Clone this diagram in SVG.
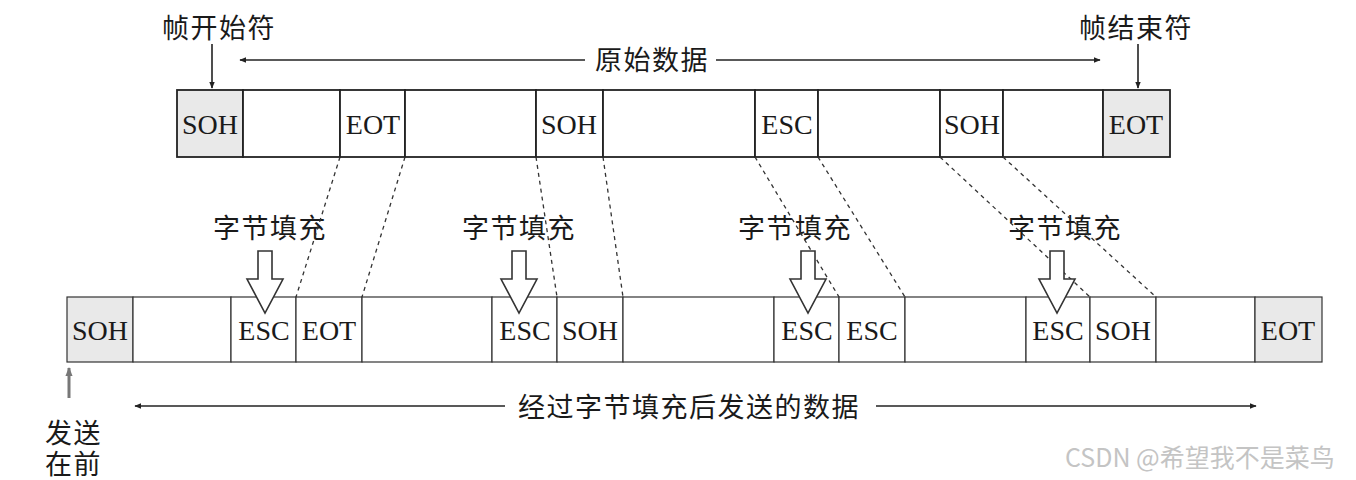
<svg xmlns="http://www.w3.org/2000/svg" width="1356" height="480" viewBox="0 0 1356 480">
<defs>
<style>
.cell{fill:#fff;stroke:#222;stroke-width:1.8}
.cell2{fill:#fff;stroke:#333;stroke-width:1.2}
.gray{fill:#e9e9e9}
.lbl{font-family:"Liberation Serif","Times New Roman",serif;font-size:28px;fill:#1a1a1a;text-anchor:middle}
.cn{font-family:"Noto Sans CJK SC","Noto Sans CJK JP",sans-serif;font-size:27px;letter-spacing:1.5px;fill:#1a1a1a}
.dash{stroke:#333;stroke-width:1.3;stroke-dasharray:4 4;fill:none}
.arr{stroke:#222;stroke-width:1.6;fill:none}
.hollow{fill:#fff;stroke:#333;stroke-width:1.6;stroke-linejoin:miter}
</style>
<marker id="ah" viewBox="0 0 10 10" refX="9" refY="5" markerWidth="7" markerHeight="7" orient="auto-start-reverse" markerUnits="userSpaceOnUse">
<path d="M0,1 L10,5 L0,9 Z" fill="#222"/>
</marker>
<marker id="ahg" viewBox="0 0 10 10" refX="9" refY="5" markerWidth="9" markerHeight="9" orient="auto" markerUnits="userSpaceOnUse">
<path d="M0,1 L10,5 L0,9 Z" fill="#777"/>
</marker>
</defs>
<rect width="1356" height="480" fill="#fff"/>

<!-- top row: original data -->
<g id="top-row">
<g id="t1"><rect class="cell gray" x="177" y="90" width="66" height="67"/><text class="lbl" x="210" y="134">SOH</text></g>
<g id="t2"><rect class="cell" x="243" y="90" width="97" height="67"/></g>
<g id="t3"><rect class="cell" x="340" y="90" width="65" height="67"/><text class="lbl" x="373" y="134">EOT</text></g>
<g id="t4"><rect class="cell" x="405" y="90" width="131" height="67"/></g>
<g id="t5"><rect class="cell" x="536" y="90" width="67" height="67"/><text class="lbl" x="569" y="134">SOH</text></g>
<g id="t6"><rect class="cell" x="603" y="90" width="152" height="67"/></g>
<g id="t7"><rect class="cell" x="755" y="90" width="63" height="67"/><text class="lbl" x="787" y="134">ESC</text></g>
<g id="t8"><rect class="cell" x="818" y="90" width="122" height="67"/></g>
<g id="t9"><rect class="cell" x="940" y="90" width="63" height="67"/><text class="lbl" x="972" y="134">SOH</text></g>
<g id="t10"><rect class="cell" x="1003" y="90" width="100" height="67"/></g>
<g id="t11"><rect class="cell gray" x="1103" y="90" width="67" height="67"/><text class="lbl" x="1136" y="134">EOT</text></g>
</g>

<!-- bottom row: stuffed data -->
<g id="bottom-row">
<g id="b1"><rect class="cell2 gray" x="67" y="297" width="66" height="65"/><text class="lbl" x="100" y="340">SOH</text></g>
<g id="b2"><rect class="cell2" x="133" y="297" width="98" height="65"/></g>
<g id="b3"><rect class="cell2" x="231" y="297" width="65" height="65"/><text class="lbl" x="264" y="340">ESC</text></g>
<g id="b4"><rect class="cell2" x="296" y="297" width="66" height="65"/><text class="lbl" x="329" y="340">EOT</text></g>
<g id="b5"><rect class="cell2" x="362" y="297" width="130" height="65"/></g>
<g id="b6"><rect class="cell2" x="492" y="297" width="65" height="65"/><text class="lbl" x="525" y="340">ESC</text></g>
<g id="b7"><rect class="cell2" x="557" y="297" width="66" height="65"/><text class="lbl" x="590" y="340">SOH</text></g>
<g id="b8"><rect class="cell2" x="623" y="297" width="151" height="65"/></g>
<g id="b9"><rect class="cell2" x="774" y="297" width="65" height="65"/><text class="lbl" x="807" y="340">ESC</text></g>
<g id="b10"><rect class="cell2" x="839" y="297" width="66" height="65"/><text class="lbl" x="872" y="340">ESC</text></g>
<g id="b11"><rect class="cell2" x="905" y="297" width="121" height="65"/></g>
<g id="b12"><rect class="cell2" x="1026" y="297" width="64" height="65"/><text class="lbl" x="1058" y="340">ESC</text></g>
<g id="b13"><rect class="cell2" x="1090" y="297" width="66" height="65"/><text class="lbl" x="1123" y="340">SOH</text></g>
<g id="b14"><rect class="cell2" x="1156" y="297" width="99" height="65"/></g>
<g id="b15"><rect class="cell2 gray" x="1255" y="297" width="67" height="65"/><text class="lbl" x="1288" y="340">EOT</text></g>
</g>

<!-- labels -->
<g id="label-start"><text class="cn" x="162" y="38">帧开始符</text></g>
<g id="label-end"><text class="cn" x="1079" y="38">帧结束符</text></g>
<g id="label-orig"><text class="cn" x="595" y="70">原始数据</text></g>
<g id="label-fill1"><text class="cn" x="213" y="238">字节填充</text></g>
<g id="label-fill2"><text class="cn" x="462" y="238">字节填充</text></g>
<g id="label-fill3"><text class="cn" x="738" y="238">字节填充</text></g>
<g id="label-fill4"><text class="cn" x="1008" y="238">字节填充</text></g>
<g id="label-sent"><text class="cn" x="518" y="417">经过字节填充后发送的数据</text></g>
<g id="label-first"><text class="cn"><tspan x="45" y="443">发送</tspan><tspan x="45" y="474">在前</tspan></text></g>
<g id="watermark"><text x="1065" y="467" font-family="'Noto Sans CJK SC','Noto Sans',sans-serif" font-size="25" fill="#c4c4c4">CSDN @希望我不是菜鸟</text></g>

<!-- connectors -->
<g id="connectors">
<line class="arr" x1="212" y1="44" x2="212" y2="88" marker-end="url(#ah)"/>
<line class="arr" x1="1138" y1="44" x2="1138" y2="88" marker-end="url(#ah)"/>
<line class="arr" x1="585" y1="60" x2="240" y2="60" marker-end="url(#ah)"/>
<line class="arr" x1="716" y1="60" x2="1100" y2="60" marker-end="url(#ah)"/>
<line class="arr" x1="505" y1="406" x2="135" y2="406" marker-end="url(#ah)"/>
<line class="arr" x1="876" y1="406" x2="1256" y2="406" marker-end="url(#ah)"/>
<line x1="69" y1="398" x2="69" y2="368" stroke="#777" stroke-width="3" marker-end="url(#ahg)"/>

<line class="dash" x1="340" y1="157" x2="296" y2="297"/>
<line class="dash" x1="405" y1="157" x2="362" y2="297"/>
<line class="dash" x1="536" y1="157" x2="557" y2="297"/>
<line class="dash" x1="603" y1="157" x2="623" y2="297"/>
<line class="dash" x1="755" y1="157" x2="839" y2="297"/>
<line class="dash" x1="818" y1="157" x2="905" y2="297"/>
<line class="dash" x1="940" y1="157" x2="1090" y2="297"/>
<line class="dash" x1="1003" y1="157" x2="1156" y2="297"/>

<polygon class="hollow" points="258,251 272,251 272,279 283,279 265,313 247,279 258,279"/>
<polygon class="hollow" points="512,251 526,251 526,279 537,279 519,313 501,279 512,279"/>
<polygon class="hollow" points="801,251 815,251 815,279 826,279 808,313 790,279 801,279"/>
<polygon class="hollow" points="1050,251 1064,251 1064,279 1075,279 1057,313 1039,279 1050,279"/>
</g>
</svg>
